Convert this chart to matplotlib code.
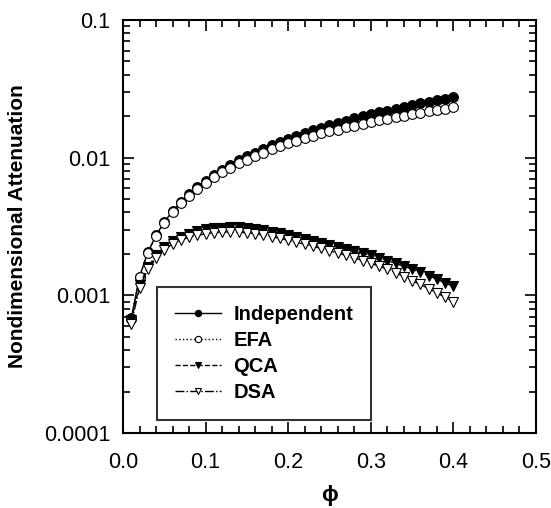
import matplotlib
matplotlib.use("Agg")
import matplotlib.pyplot as plt
from matplotlib.ticker import FixedLocator, LogLocator, NullFormatter, FixedFormatter
import numpy as np

plt.rcParams['font.family'] = ['Liberation Sans', 'DejaVu Sans']

phi = [0.01, 0.02, 0.03, 0.04, 0.05, 0.06, 0.07, 0.08, 0.09, 0.10,
       0.11, 0.12, 0.13, 0.14, 0.15, 0.16, 0.17, 0.18, 0.19, 0.20,
       0.21, 0.22, 0.23, 0.24, 0.25, 0.26, 0.27, 0.28, 0.29, 0.30,
       0.31, 0.32, 0.33, 0.34, 0.35, 0.36, 0.37, 0.38, 0.39, 0.40]

independent = [0.00068, 0.00137, 0.00205, 0.00273, 0.00341, 0.00410, 0.00478, 0.00546, 0.00614, 0.00682,
               0.00750, 0.00818, 0.00887, 0.00955, 0.0102, 0.0109, 0.0116, 0.0123, 0.0130, 0.0137,
               0.0144, 0.0151, 0.0158, 0.0165, 0.0172, 0.0179, 0.0186, 0.0193, 0.0200, 0.0207,
               0.0214, 0.0220, 0.0227, 0.0234, 0.0241, 0.0248, 0.0255, 0.0262, 0.0268, 0.0275]

efa = [0.000678, 0.00136, 0.00203, 0.00269, 0.00335, 0.00402, 0.00467, 0.00531, 0.00595, 0.00659,
       0.00722, 0.00784, 0.00847, 0.00909, 0.00967, 0.0103, 0.0109, 0.0115, 0.0121, 0.0127,
       0.0132, 0.0138, 0.0144, 0.0150, 0.0156, 0.0160, 0.0166, 0.0171, 0.0177, 0.0182,
       0.0188, 0.0192, 0.0197, 0.0202, 0.0207, 0.0212, 0.0217, 0.0222, 0.0227, 0.0233]

qca = [0.00066, 0.00118, 0.00160, 0.00195, 0.00225, 0.00248, 0.00266, 0.00280, 0.00292, 0.00301,
       0.00307, 0.00311, 0.00313, 0.00312, 0.00309, 0.00304, 0.00297, 0.00290, 0.00282, 0.00274,
       0.00266, 0.00258, 0.00250, 0.00242, 0.00234, 0.00226, 0.00218, 0.00210, 0.00202, 0.00195,
       0.00187, 0.00179, 0.00171, 0.00163, 0.00155, 0.00147, 0.00139, 0.00131, 0.00123, 0.00116]

dsa = [0.00062, 0.00114, 0.00155, 0.00188, 0.00215, 0.00236, 0.00252, 0.00264, 0.00273, 0.00280,
       0.00285, 0.00288, 0.00289, 0.00288, 0.00285, 0.00280, 0.00274, 0.00267, 0.00259, 0.00251,
       0.00243, 0.00235, 0.00227, 0.00219, 0.00211, 0.00203, 0.00195, 0.00187, 0.00179, 0.00171,
       0.00163, 0.00155, 0.00146, 0.00137, 0.00128, 0.00120, 0.00112, 0.00104, 0.00097, 0.00090]

xticks = [0.0, 0.1, 0.2, 0.3, 0.4, 0.5]
xtick_labels = ['0.0', '0.1', '0.2', '0.3', '0.4', '0.5']
yticks = [0.0001, 0.001, 0.01, 0.1]
ytick_labels = ['0.0001', '0.001', '0.01', '0.1']

fig = plt.figure(figsize=(5.51, 5.08), dpi=100)
ax = fig.add_axes([0.2232, 0.1476, 0.7496, 0.8130])

ms = 7.0
ax.plot(phi, independent, '-', color='black', lw=1.0, marker='o', ms=ms,
        mfc='black', mec='black', mew=0.8, label='Independent')
ax.plot(phi, efa, ':', color='black', lw=1.0, marker='o', ms=ms,
        mfc='white', mec='black', mew=0.8, label='EFA')
ax.plot(phi, qca, '--', color='black', lw=1.0, marker='v', ms=ms,
        mfc='black', mec='black', mew=0.8, label='QCA')
ax.plot(phi, dsa, '-.', color='black', lw=1.0, marker='v', ms=ms,
        mfc='white', mec='black', mew=0.8, label='DSA')

ax.set_yscale('log')
ax.set_xlim(0, 0.5)
ax.set_ylim(0.0001, 0.1)

ax.xaxis.set_major_locator(FixedLocator(xticks))
ax.xaxis.set_major_formatter(FixedFormatter(xtick_labels))
ax.xaxis.set_minor_locator(FixedLocator(np.arange(0, 0.5001, 0.02)))
ax.yaxis.set_major_locator(FixedLocator(yticks))
ax.yaxis.set_major_formatter(FixedFormatter(ytick_labels))
ax.yaxis.set_minor_locator(LogLocator(base=10, subs=np.arange(2, 10), numticks=20))
ax.yaxis.set_minor_formatter(NullFormatter())

ax.tick_params(which='both', direction='in', top=True, right=True, width=1.2,
               labelsize=15.5, colors='black')
ax.tick_params(which='major', length=8)
ax.tick_params(which='minor', length=5)
ax.tick_params(axis='y', which='major', pad=9)
ax.tick_params(axis='x', which='major', pad=14)
for s in ax.spines.values():
    s.set_linewidth(1.5)

ax.set_ylabel('Nondimensional Attenuation', fontsize=15, fontweight='bold', labelpad=12)
ax.set_xlabel('ϕ', fontsize=16, fontweight='bold', labelpad=8)

leg = ax.legend(loc='lower left', bbox_to_anchor=(0.082, 0.031, 0.518, 0.332), mode='expand',
                prop={'weight': 'bold', 'size': 14.5}, frameon=True, fancybox=False,
                edgecolor='black', markerscale=0.65, handlelength=2.3, borderpad=0.9,
                labelspacing=0.35, handletextpad=0.6, borderaxespad=0)
leg.get_frame().set_linewidth(1.5)

fig.savefig('out.png', dpi=100)
